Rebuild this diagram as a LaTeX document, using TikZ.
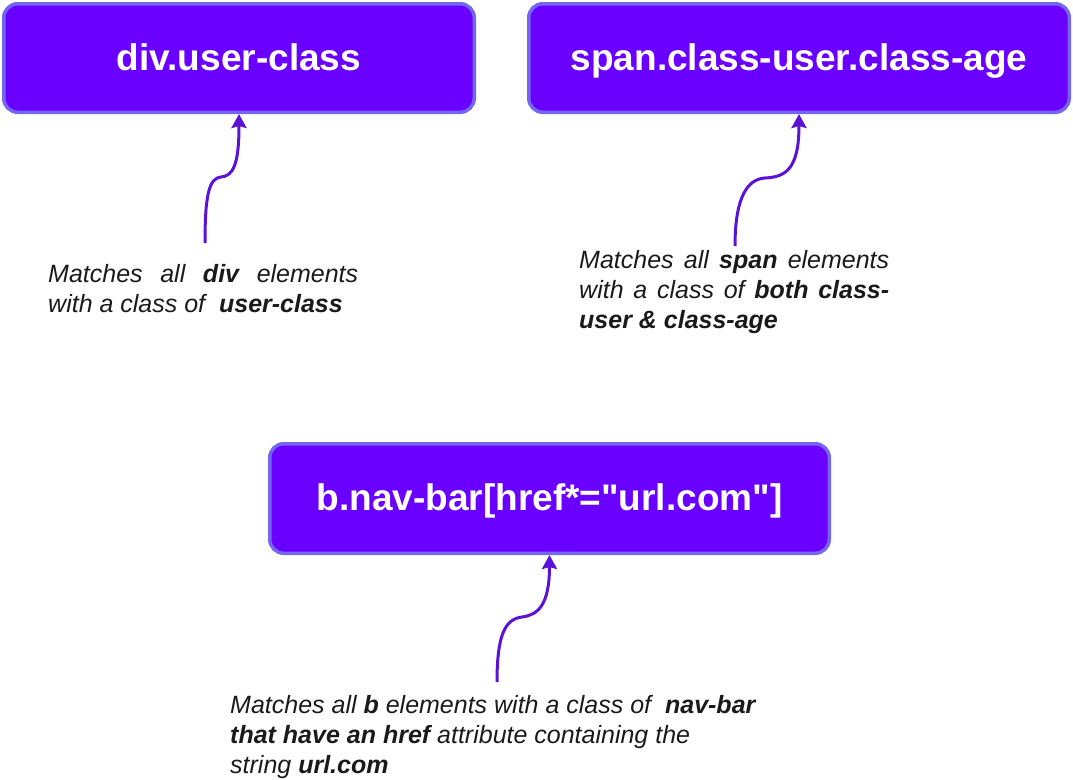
\documentclass[tikz,border=0pt]{standalone}
\usepackage{fontspec}
\setmainfont{Liberation Sans}[Ligatures=TeXOff]
\usetikzlibrary{arrows.meta}
\definecolor{boxfill}{HTML}{6A00FF}
\definecolor{boxline}{HTML}{7366F0}
\definecolor{arrowc}{HTML}{5A12D6}
\definecolor{notetext}{HTML}{1A1A1A}
\begin{document}
\begin{tikzpicture}[x=1pt,y=-1pt,
  selbox/.style={draw=boxline, line width=3.5pt, fill=boxfill, rounded corners=14pt,
    text=white, font=\fontsize{37}{44}\selectfont\bfseries,
    text height=24.5pt, text depth=0pt, inner sep=0pt},
  note/.style={anchor=north west, inner sep=0pt, align=left,
    font=\fontsize{25}{30}\selectfont\itshape, text=notetext},
  conn/.style={draw=arrowc, line width=3pt,
    -{Stealth[length=14pt,width=15pt,inset=2pt]}}]
\useasboundingbox (0,0) rectangle (1073,779);

\node[selbox, minimum width=470.5pt, minimum height=108.5pt] (b1) at (239,58) {div.user-class};
\node[selbox, minimum width=540.5pt, minimum height=108.5pt] (b2) at (799,58) {span.class-user.class-age};
\node[selbox, minimum width=559.5pt, minimum height=109.5pt] (b3) at (549.5,498.5) {b.nav-bar[href*="url.com"]};

\node[note] (t1) at (48,262) {\makebox[310pt][s]{\rule{0pt}{20pt}Matches all \textbf{div} elements}\\
with a class of \ \textbf{user-class}};

\node[note] (t2) at (579,248) {\makebox[310pt][s]{\rule{0pt}{20pt}Matches all \textbf{span} elements}\\
\makebox[310pt][s]{with a class of \textbf{both class-}}\\
\textbf{user \& class-age}};

\node[note] (t3) at (230,693) {\rule{0pt}{20pt}Matches all \textbf{b} elements with a class of \ \textbf{nav-bar}\\
\textbf{that have an href} attribute containing the\\
string \textbf{url.com}};

\coordinate (s1) at (205,243);
\coordinate (s2) at (735,246);
\coordinate (s3) at (497,682);

\draw[conn] (s1) .. controls (205,195) and (209,178) .. (221,177)
  .. controls (233,176) and (239,165) .. (b1.south);
\draw[conn] (s2) .. controls (735,196) and (748,179) .. (765,178)
  .. controls (785,177) and (799,170) .. (b2.south);
\draw[conn] (s3) .. controls (497,635) and (505,619) .. (522,617)
  .. controls (538,615) and (549.5,605) .. (b3.south);
\end{tikzpicture}
\end{document}
